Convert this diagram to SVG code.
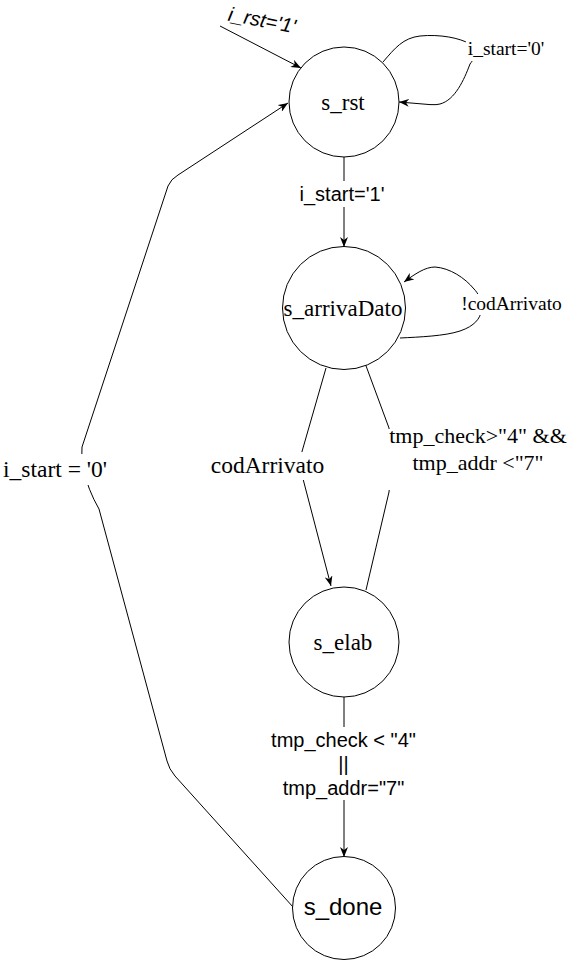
<svg xmlns="http://www.w3.org/2000/svg" width="577" height="960" viewBox="0 0 577 960">
<style>
.node{fill:#fff;stroke:#000;stroke-width:1}
.edge{fill:none;stroke:#000;stroke-width:1}
.serif{font-family:"Liberation Serif","Times New Roman",serif;fill:#000;text-anchor:middle}
.sans{font-family:"Liberation Sans",Arial,sans-serif;fill:#000;text-anchor:middle}
.bg{fill:#fff;stroke:none}
</style>
<defs>
<marker id="arr" viewBox="0 0 10 8" refX="10" refY="4" markerWidth="10" markerHeight="8" markerUnits="userSpaceOnUse" orient="auto">
<path d="M0,0 L10,4 L0,8 L3,4 Z" fill="#000"/>
</marker>
</defs>
<rect width="577" height="960" fill="#fff"/>
<g id="connectors">
<path class="edge" d="M220,26 L301,68" marker-end="url(#arr)"/>
<path class="edge" d="M383,62 C395,48 403,38 420,36 C440,34 460,38 470,44 C480,50 476,56 470,64 C464,80 455,100 440,104 Q437,105 430,104.6 L399,102" marker-end="url(#arr)"/>
<path class="edge" d="M344,157 L344,247" marker-end="url(#arr)"/>
<path class="edge" d="M400,338 C420,337 445,336 460,331 C475,326 480,318 481,312 C482,300 478,293 474,289 C465,278 450,268 435,267 C425,267 415,274 404,282" marker-end="url(#arr)"/>
<path class="edge" d="M326,368 L301,455 Q299,465 302,475 L331,586" marker-end="url(#arr)"/>
<path class="edge" d="M366,590 L389,492 Q393,460 389,428 L362,355" marker-end="url(#arr)"/>
<path class="edge" d="M344,697 L344,857" marker-end="url(#arr)"/>
<path class="edge" d="M293,907 L175,776 Q169,769 167,761 L99,509 Q88,490 83,468 Q81,458 82,447 L168,186 Q171,179 178,175 L288,103" marker-end="url(#arr)"/>
</g>
<g id="edge-labels">
<text class="sans" x="262" y="27" font-size="20" font-style="italic" transform="rotate(11 262 21)">i_rst='1'</text>
<rect class="bg" x="466" y="39" width="80" height="22"/>
<text class="serif" x="506" y="55" font-size="19.5">i_start='0'</text>
<rect class="bg" x="299" y="181" width="88" height="26"/>
<text class="sans" x="342" y="201" font-size="20">i_start='1'</text>
<rect class="bg" x="460" y="294" width="104" height="21"/>
<text class="serif" x="511.5" y="310" font-size="19.5">!codArrivato</text>
<rect class="bg" x="209" y="452" width="118" height="28"/>
<text class="serif" x="267.5" y="472.5" font-size="23.5">codArrivato</text>
<rect class="bg" x="383" y="429" width="191" height="61"/>
<text class="serif" x="478" y="443" font-size="22">tmp_check&gt;"4" &amp;&amp;</text>
<text class="serif" x="478" y="470" font-size="22">tmp_addr &lt;"7"</text>
<rect class="bg" x="270" y="727" width="148" height="73"/>
<text class="sans" x="343.5" y="747" font-size="20">tmp_check &lt; "4"</text>
<text class="sans" x="343.5" y="771" font-size="20">||</text>
<text class="sans" x="343.5" y="795" font-size="20">tmp_addr="7"</text>
<rect class="bg" x="0" y="454" width="110" height="31"/>
<text class="serif" x="55" y="477" font-size="23.5">i_start = '0'</text>
</g>
<g id="s_rst">
<circle class="node" cx="344" cy="102" r="55"/>
<text class="serif" x="343" y="110" font-size="23">s_rst</text>
</g>
<g id="s_arrivaDato">
<circle class="node" cx="344" cy="308" r="61.5"/>
<text class="serif" x="343" y="316" font-size="23">s_arrivaDato</text>
</g>
<g id="s_elab">
<circle class="node" cx="344" cy="642" r="55"/>
<text class="serif" x="343" y="650" font-size="23">s_elab</text>
</g>
<g id="s_done">
<circle class="node" cx="344" cy="908" r="51.5"/>
<text class="sans" x="343" y="915" font-size="24">s_done</text>
</g>
</svg>
